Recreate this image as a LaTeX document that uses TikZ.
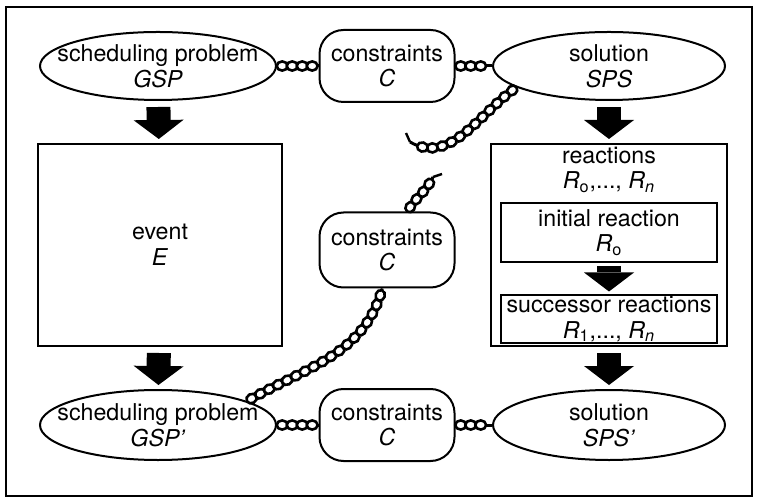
\documentclass[tikz,border=0pt]{standalone}
\usepackage{fontspec}
\setmainfont{TeX Gyre Heros}
\usetikzlibrary{shapes.geometric,arrows.meta,decorations.markings}

\begin{document}
\begin{tikzpicture}[x=0.5pt,y=-0.5pt,
  every node/.style={font=\fontsize{11.6}{12.8}\selectfont,align=center,line width=1pt},
  oval/.style={draw,ellipse,inner xsep=-10pt,inner ysep=0pt},
  cbox/.style={draw,rounded corners=12pt,minimum width=67.5pt,minimum height=36pt,inner sep=0pt},
  box/.style={draw,inner sep=0pt},
  down/.style={line width=12pt,-{Triangle[length=9.5pt,width=25pt,line width=0pt]},shorten <=3pt,shorten >=2pt},
  chain/.style={line width=1.5pt,postaction={decorate},decoration={markings,
    mark=between positions 2.6pt and -2.6pt step 5pt with {\draw[line width=1.3pt,fill=white] (0,0) ellipse (2.7pt and 2.3pt);}}}]
  \useasboundingbox (0,0) rectangle (758,501);
  \draw[line width=1.2pt] (6,7) rectangle (752,496);

  % top row
  \node[oval,minimum width=118pt,minimum height=34pt] (gsp) at (158,66) {scheduling problem\\\textit{GSP}};
  \node[cbox] (cons1) at (387,66) {constraints\\\textit{C}};
  \node[oval,minimum width=116pt,minimum height=34pt] (sps) at (609,66) {solution\\\textit{SPS}};

  % middle
  \node[box,minimum width=122pt,minimum height=101pt] (event) at (160,245) {event\\\textit{E}};
  \node[cbox,minimum height=37.5pt] (cons2) at (387,250) {constraints\\\textit{C}};
  \node[box,minimum width=118pt,minimum height=101pt] (reactions) at (609,245) {};
  \node[anchor=north,inner sep=0pt] (rtitle) at ([yshift=-1.5pt]reactions.north) {reactions\\\textit{R}\textsubscript{o},..., \textit{R}\textsubscript{\textit{n}}};
  \node[box,minimum width=108pt,minimum height=29.5pt] (initial) at (609,232.5) {initial reaction\\\textit{R}\textsubscript{o}};
  \node[box,minimum width=108pt,minimum height=23.5pt] (succ) at (609,319) {successor reactions\\\textit{R}\textsubscript{1},..., \textit{R}\textsubscript{\textit{n}}};

  % bottom row
  \node[oval,minimum width=118pt,minimum height=35pt] (gsp2) at (158,425) {scheduling problem\\\textit{GSP'}};
  \node[cbox] (cons3) at (387,425) {constraints\\\textit{C}};
  \node[oval,minimum width=116pt,minimum height=35pt] (sps2) at (609,425) {solution\\\textit{SPS'}};

  % block arrows
  \draw[down] (gsp) -- (event);
  \draw[down] (sps) -- (reactions);
  \draw[down,shorten <=1.5pt,shorten >=1.5pt] (initial) -- (succ);
  \draw[down] (event) -- (gsp2);
  \draw[down] (reactions) -- (sps2);

  % chains
  \coordinate (end1) at (433,177);
  \coordinate (end2) at (410,142);
  \draw[chain] (gsp) -- (cons1);
  \draw[chain] (cons1) -- (sps);
  \draw[chain] (gsp2) -- (cons3);
  \draw[chain] (cons3) -- (sps2);
  \draw[chain] (gsp2.15) to[out=30,in=-105] (cons2.-97);
  \draw[chain] (cons2.62) to[out=60,in=-115] (end1);
  \draw[chain] (sps.193) to[out=215,in=-30] (end2);
  % broken links
  \draw[line width=1.2pt] (end1) -- ++(9,-3);
  \draw[line width=1.2pt] (end2) -- ++(-4,-9);
\end{tikzpicture}
\end{document}
